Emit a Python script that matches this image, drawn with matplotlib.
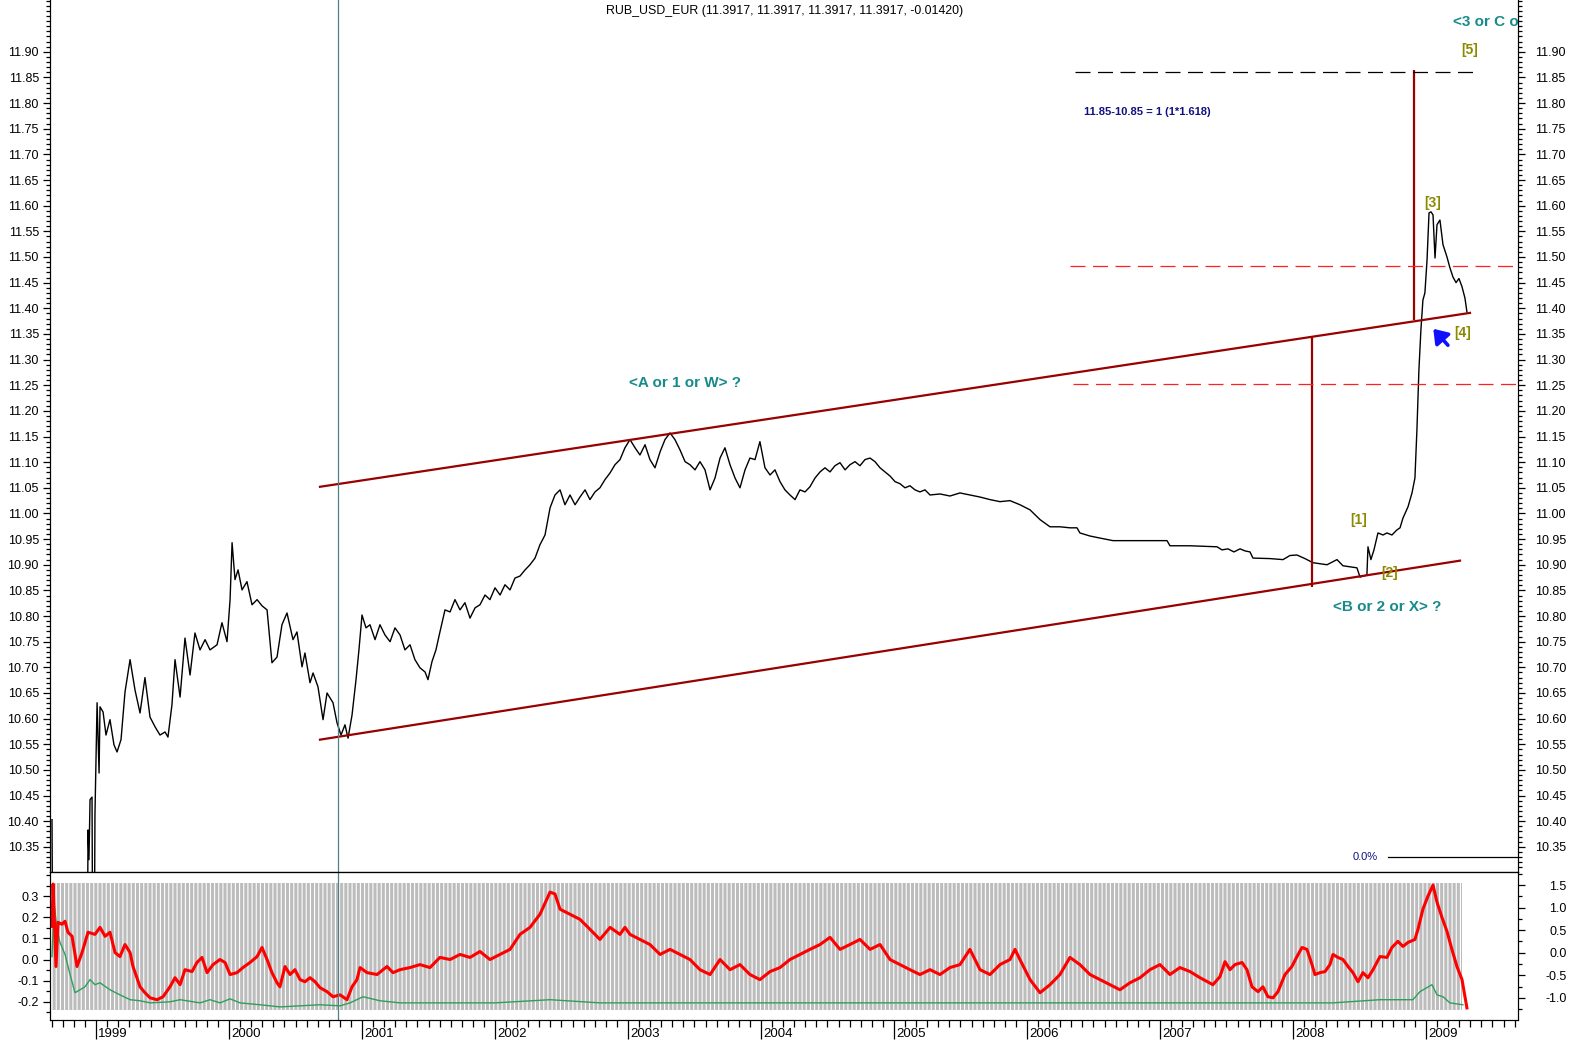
import matplotlib
matplotlib.use('Agg')
import matplotlib.pyplot as plt
import numpy as np
from matplotlib.ticker import FixedLocator, MultipleLocator, FormatStrFormatter, NullFormatter

plt.rcParams['font.family'] = ['Liberation Sans', 'DejaVu Sans']
plt.rcParams['hatch.linewidth'] = 0.8

# --- data (decimal years) ---
t_price = [1998.669, 1998.677, 1998.932, 1998.940, 1998.947, 1998.955, 1998.970, 1998.977, 1998.985,
           1998.992, 1999.008, 1999.023, 1999.030, 1999.053, 1999.075, 1999.105, 1999.135, 1999.158,
           1999.188, 1999.218, 1999.256, 1999.293, 1999.331, 1999.368, 1999.406, 1999.444, 1999.481,
           1999.519, 1999.541, 1999.571, 1999.594, 1999.632, 1999.669, 1999.707, 1999.744, 1999.782,
           1999.820, 1999.857, 1999.910, 1999.947, 1999.985, 2000.008, 2000.023, 2000.045, 2000.068,
           2000.098, 2000.135, 2000.173, 2000.211, 2000.248, 2000.286, 2000.323, 2000.361, 2000.398,
           2000.436, 2000.481, 2000.511, 2000.549, 2000.571, 2000.609, 2000.632, 2000.669, 2000.707,
           2000.737, 2000.782, 2000.812, 2000.842, 2000.872, 2000.895, 2000.925, 2000.955, 2000.977,
           2001.000, 2001.030, 2001.060, 2001.098, 2001.135, 2001.173, 2001.211, 2001.248, 2001.286,
           2001.323, 2001.361, 2001.398, 2001.436, 2001.474, 2001.496, 2001.526, 2001.556, 2001.586,
           2001.624, 2001.662, 2001.699, 2001.737, 2001.774, 2001.812, 2001.850, 2001.887, 2001.925,
           2001.962, 2002.000, 2002.038, 2002.075, 2002.113, 2002.150, 2002.188, 2002.226, 2002.263,
           2002.301, 2002.338, 2002.376, 2002.414, 2002.451, 2002.489, 2002.526, 2002.564, 2002.602,
           2002.639, 2002.677, 2002.714, 2002.752, 2002.789, 2002.827, 2002.865, 2002.902, 2002.940,
           2002.977, 2003.015, 2003.053, 2003.090, 2003.128, 2003.165, 2003.203, 2003.241, 2003.278,
           2003.316, 2003.353, 2003.391, 2003.429, 2003.466, 2003.504, 2003.541, 2003.579, 2003.617,
           2003.654, 2003.692, 2003.729, 2003.767, 2003.805, 2003.842, 2003.880, 2003.917, 2003.955,
           2003.992, 2004.030, 2004.068, 2004.105, 2004.143, 2004.180, 2004.218, 2004.256, 2004.293,
           2004.331, 2004.368, 2004.406, 2004.444, 2004.481, 2004.519, 2004.556, 2004.594, 2004.632,
           2004.669, 2004.707, 2004.744, 2004.782, 2004.820, 2004.857, 2004.895, 2004.932, 2004.970,
           2005.008, 2005.045, 2005.083, 2005.120, 2005.158, 2005.195, 2005.233, 2005.271, 2005.346,
           2005.421, 2005.496, 2005.571, 2005.647, 2005.722, 2005.797, 2005.872, 2005.947, 2006.023,
           2006.098, 2006.173, 2006.248, 2006.323, 2006.376, 2006.398, 2006.474, 2006.549, 2006.647,
           2006.774, 2006.925, 2007.053, 2007.075, 2007.226, 2007.429, 2007.466, 2007.511, 2007.556,
           2007.602, 2007.639, 2007.677, 2007.699, 2007.827, 2007.925, 2007.977, 2008.030, 2008.090,
           2008.150, 2008.256, 2008.331, 2008.376, 2008.481, 2008.504, 2008.556, 2008.564, 2008.586,
           2008.609, 2008.639, 2008.677, 2008.707, 2008.744, 2008.782, 2008.805, 2008.827, 2008.865,
           2008.895, 2008.917, 2008.932, 2008.947, 2008.962, 2008.977, 2008.992, 2009.008, 2009.023,
           2009.038, 2009.053, 2009.068, 2009.083, 2009.105, 2009.128, 2009.158, 2009.180, 2009.203,
           2009.226, 2009.248, 2009.271, 2009.293, 2009.308]
price = [10.403, 10.0, 10.0, 10.383, 10.325, 10.442, 10.447, 10.0, 10.0,
         10.412, 10.631, 10.494, 10.623, 10.613, 10.568, 10.598, 10.549, 10.535,
         10.559, 10.652, 10.715, 10.656, 10.611, 10.680, 10.603, 10.584, 10.568,
         10.574, 10.564, 10.627, 10.715, 10.642, 10.757, 10.685, 10.767, 10.734,
         10.754, 10.734, 10.744, 10.787, 10.750, 10.832, 10.943, 10.871, 10.890,
         10.851, 10.867, 10.822, 10.832, 10.820, 10.812, 10.709, 10.720, 10.783,
         10.806, 10.754, 10.769, 10.701, 10.728, 10.670, 10.689, 10.662, 10.598,
         10.650, 10.631, 10.592, 10.568, 10.588, 10.562, 10.607, 10.676, 10.734,
         10.802, 10.777, 10.783, 10.754, 10.783, 10.763, 10.750, 10.777, 10.763,
         10.734, 10.744, 10.715, 10.699, 10.691, 10.676, 10.711, 10.734, 10.769,
         10.812, 10.808, 10.832, 10.812, 10.826, 10.796, 10.816, 10.822, 10.841,
         10.832, 10.855, 10.841, 10.861, 10.851, 10.874, 10.878, 10.890, 10.900,
         10.913, 10.939, 10.958, 11.011, 11.036, 11.046, 11.017, 11.036, 11.017,
         11.032, 11.046, 11.027, 11.042, 11.050, 11.066, 11.079, 11.095, 11.105,
         11.128, 11.144, 11.128, 11.114, 11.134, 11.105, 11.089, 11.120, 11.144,
         11.157, 11.144, 11.124, 11.101, 11.095, 11.085, 11.101, 11.085, 11.046,
         11.069, 11.108, 11.128, 11.095, 11.069, 11.050, 11.085, 11.108, 11.105,
         11.140, 11.089, 11.075, 11.085, 11.062, 11.046, 11.036, 11.027, 11.046,
         11.042, 11.052, 11.069, 11.081, 11.089, 11.081, 11.093, 11.099, 11.085,
         11.095, 11.101, 11.093, 11.105, 11.108, 11.101, 11.089, 11.081, 11.073,
         11.062, 11.058, 11.050, 11.054, 11.046, 11.042, 11.046, 11.036, 11.038,
         11.034, 11.040, 11.036, 11.032, 11.027, 11.023, 11.025, 11.017, 11.007,
         10.988, 10.974, 10.974, 10.972, 10.972, 10.962, 10.956, 10.952, 10.947,
         10.947, 10.947, 10.947, 10.937, 10.937, 10.935, 10.929, 10.931, 10.925,
         10.931, 10.927, 10.925, 10.913, 10.912, 10.910, 10.918, 10.919, 10.912,
         10.904, 10.900, 10.910, 10.898, 10.894, 10.876, 10.880, 10.935, 10.910,
         10.929, 10.962, 10.958, 10.962, 10.958, 10.968, 10.972, 10.991, 11.013,
         11.040, 11.069, 11.163, 11.280, 11.358, 11.416, 11.430, 11.494, 11.586,
         11.588, 11.582, 11.498, 11.563, 11.572, 11.524, 11.500, 11.479, 11.461,
         11.450, 11.458, 11.442, 11.420, 11.393]

t_osc = [1998.669, 1998.677, 1998.699, 1998.714, 1998.744, 1998.767, 1998.789, 1998.820, 1998.857,
         1998.895, 1998.940, 1998.992, 1999.030, 1999.068, 1999.105, 1999.143, 1999.180, 1999.218,
         1999.256, 1999.278, 1999.331, 1999.368, 1999.406, 1999.459, 1999.504, 1999.556, 1999.594,
         1999.632, 1999.669, 1999.722, 1999.759, 1999.797, 1999.835, 1999.880, 1999.932, 1999.970,
         2000.008, 2000.060, 2000.105, 2000.158, 2000.211, 2000.248, 2000.286, 2000.323, 2000.361,
         2000.383, 2000.421, 2000.459, 2000.496, 2000.534, 2000.571, 2000.609, 2000.647, 2000.684,
         2000.737, 2000.782, 2000.835, 2000.887, 2000.925, 2000.962, 2000.985, 2001.038, 2001.113,
         2001.188, 2001.233, 2001.286, 2001.361, 2001.436, 2001.511, 2001.586, 2001.662, 2001.737,
         2001.812, 2001.887, 2001.962, 2002.038, 2002.113, 2002.188, 2002.263, 2002.338, 2002.414,
         2002.451, 2002.489, 2002.564, 2002.639, 2002.714, 2002.789, 2002.865, 2002.940, 2002.977,
         2003.015, 2003.090, 2003.165, 2003.241, 2003.316, 2003.391, 2003.466, 2003.541, 2003.617,
         2003.692, 2003.767, 2003.842, 2003.917, 2003.992, 2004.068, 2004.143, 2004.218, 2004.293,
         2004.368, 2004.444, 2004.519, 2004.594, 2004.669, 2004.744, 2004.820, 2004.895, 2004.970,
         2005.045, 2005.120, 2005.195, 2005.271, 2005.346, 2005.421, 2005.496, 2005.571, 2005.647,
         2005.722, 2005.797, 2005.872, 2005.910, 2005.947, 2006.023, 2006.098, 2006.173, 2006.248,
         2006.323, 2006.398, 2006.474, 2006.549, 2006.624, 2006.699, 2006.774, 2006.850, 2006.925,
         2007.000, 2007.075, 2007.150, 2007.226, 2007.301, 2007.398, 2007.451, 2007.489, 2007.526,
         2007.564, 2007.617, 2007.654, 2007.692, 2007.737, 2007.774, 2007.812, 2007.850, 2007.887,
         2007.940, 2007.992, 2008.030, 2008.068, 2008.105, 2008.143, 2008.165, 2008.203, 2008.241,
         2008.278, 2008.301, 2008.338, 2008.376, 2008.414, 2008.451, 2008.489, 2008.526, 2008.564,
         2008.602, 2008.654, 2008.707, 2008.744, 2008.789, 2008.827, 2008.865, 2008.917, 2008.940,
         2008.977, 2009.015, 2009.053, 2009.083, 2009.120, 2009.158, 2009.195, 2009.233, 2009.271,
         2009.308]
osc_red = [0.157, 0.357, -0.033, 0.176, 0.167, 0.181, 0.129, 0.110, -0.033,
           0.033, 0.129, 0.119, 0.152, 0.110, 0.129, 0.033, 0.014, 0.071,
           0.033, -0.033, -0.129, -0.157, -0.181, -0.190, -0.176, -0.129, -0.086,
           -0.119, -0.048, -0.057, -0.014, 0.010, -0.062, -0.024, 0.000, -0.014,
           -0.071, -0.062, -0.038, -0.014, 0.014, 0.057, 0.000, -0.062, -0.110,
           -0.129, -0.033, -0.071, -0.048, -0.095, -0.105, -0.086, -0.105, -0.133,
           -0.152, -0.176, -0.167, -0.190, -0.129, -0.095, -0.038, -0.062, -0.071,
           -0.033, -0.062, -0.048, -0.038, -0.024, -0.038, 0.010, 0.000, 0.024,
           0.010, 0.038, 0.000, 0.024, 0.048, 0.119, 0.152, 0.214, 0.319,
           0.310, 0.238, 0.214, 0.190, 0.143, 0.095, 0.152, 0.119, 0.152,
           0.119, 0.095, 0.071, 0.024, 0.048, 0.024, 0.000, -0.048, -0.071,
           0.000, -0.048, -0.024, -0.071, -0.095, -0.057, -0.038, 0.000, 0.024,
           0.048, 0.071, 0.105, 0.048, 0.071, 0.095, 0.048, 0.071, 0.000,
           -0.024, -0.048, -0.071, -0.048, -0.071, -0.038, -0.024, 0.048, -0.048,
           -0.071, -0.024, 0.000, 0.048, 0.000, -0.095, -0.157, -0.119, -0.071,
           0.010, -0.024, -0.071, -0.095, -0.119, -0.143, -0.110, -0.086, -0.048,
           -0.024, -0.071, -0.038, -0.057, -0.086, -0.119, -0.081, -0.010, -0.048,
           -0.024, -0.014, -0.048, -0.129, -0.152, -0.129, -0.176, -0.181, -0.152,
           -0.071, -0.033, 0.014, 0.057, 0.048, -0.024, -0.071, -0.062, -0.057,
           -0.024, 0.024, 0.010, 0.000, -0.033, -0.062, -0.105, -0.062, -0.086,
           -0.048, 0.014, 0.010, 0.057, 0.086, 0.062, 0.081, 0.095, 0.143,
           0.238, 0.300, 0.352, 0.271, 0.200, 0.133, 0.048, -0.033, -0.095,
           -0.229]

t_sig = [1998.669, 1998.684, 1998.707, 1998.729, 1998.767, 1998.805, 1998.842, 1998.880, 1998.917,
         1998.955, 1998.992, 1999.030, 1999.105, 1999.180, 1999.256, 1999.331, 1999.406, 1999.556,
         1999.632, 1999.782, 1999.857, 1999.932, 2000.008, 2000.083, 2000.233, 2000.383, 2000.534,
         2000.684, 2000.835, 2000.910, 2001.008, 2001.135, 2001.286, 2002.000, 2002.414, 2002.789,
         2003.500, 2004.500, 2005.500, 2006.500, 2007.500, 2008.300, 2008.654, 2008.902, 2008.955,
         2009.045, 2009.083, 2009.128, 2009.180, 2009.278]
osc_green = [0.014, 0.271, 0.143, 0.081, 0.024, -0.071, -0.157, -0.143, -0.129,
             -0.095, -0.119, -0.110, -0.143, -0.167, -0.190, -0.195, -0.205, -0.200,
             -0.190, -0.205, -0.190, -0.205, -0.186, -0.205, -0.214, -0.224, -0.219,
             -0.214, -0.219, -0.205, -0.176, -0.195, -0.205, -0.205, -0.190, -0.205,
             -0.205, -0.205, -0.205, -0.205, -0.205, -0.205, -0.190, -0.190, -0.152,
             -0.119, -0.167, -0.176, -0.205, -0.214]

vol_t = [1998.669, 2009.271]
vol_top = 0.362
vol_bottom = -0.238

# channel / annotation lines
upper_chan_t, upper_chan_p = [2000.684, 2009.331], [11.052, 11.391]
lower_chan_t, lower_chan_p = [2000.684, 2009.256], [10.559, 10.908]
vlines_t = [2008.143, 2008.910]
vlines_lo = [10.857, 11.377]
vlines_hi = [11.344, 11.865]
marker_t = 2000.820
years = list(range(1999, 2010))

W, H = 1570, 1040
fig = plt.figure(figsize=(W / 100, H / 100), dpi=100)
ax = fig.add_axes([50 / W, (H - 872) / H, 1468 / W, 872 / H])
ax2 = fig.add_axes([50 / W, (H - 1020) / H, 1468 / W, 148 / H])

xlim = (1998.654, 2009.692)

# ---- main panel ----
ax.plot(t_price, price, color='black', lw=1.0)
ax.plot(upper_chan_t, upper_chan_p, color='#990000', lw=1.6)
ax.plot(lower_chan_t, lower_chan_p, color='#990000', lw=1.6)
ax.vlines(vlines_t, vlines_lo, vlines_hi, color='#990000', lw=1.6)
ax.plot([2006.361, 2009.368], [11.861, 11.861], color='black', lw=0.9, dashes=(12, 6))
ax.plot([2006.323, 2009.692], [11.483, 11.483], color='#ff2020', lw=0.9, dashes=(12, 6))
ax.plot([2006.346, 2009.692], [11.253, 11.253], color='#ff2020', lw=0.9, dashes=(12, 6))
ax.plot([2008.714, 2009.692], [10.330, 10.330], color='black', lw=0.9)
ax.axvline(marker_t, color='#4f8088', lw=0.9)

ax.set_xlim(*xlim)
ax.set_ylim(10.301, 12.001)

teal = '#178a8a'
olive = '#8a8a00'
ax.text(1998.654 + (785 - 50) / 133, 11.98, 'RUB_USD_EUR (11.3917, 11.3917, 11.3917, 11.3917, -0.01420)',
        ha='center', va='center', fontsize=8.9)
ax.text(2009.203, 11.958, '<3 or C or Y> ?', color=teal, fontsize=11, fontweight='bold',
        ha='left', va='center', clip_on=True)
ax.text(2009.331, 11.904, '[5]', color=olive, fontsize=10, fontweight='bold', ha='center', va='center')
ax.text(2006.429, 11.783, '11.85-10.85 = 1 (1*1.618)', color='#101080', fontsize=8,
        fontweight='bold', ha='left', va='center')
ax.text(2009.053, 11.606, '[3]', color=olive, fontsize=10, fontweight='bold', ha='center', va='center')
ax.text(2009.278, 11.352, '[4]', color=olive, fontsize=10, fontweight='bold', ha='center', va='center')
ax.text(2008.496, 10.988, '[1]', color=olive, fontsize=10, fontweight='bold', ha='center', va='center')
ax.text(2008.729, 10.884, '[2]', color=olive, fontsize=10, fontweight='bold', ha='center', va='center')
ax.text(2003.429, 11.255, '<A or 1 or W> ?', color=teal, fontsize=11, fontweight='bold',
        ha='center', va='center')
ax.text(2008.707, 10.818, '<B or 2 or X> ?', color=teal, fontsize=11, fontweight='bold',
        ha='center', va='center')
ax.text(2008.639, 10.330, '0.0%', color='#101080', fontsize=8, ha='right', va='center')
ax.annotate('', xy=(2009.055, 11.360), xytext=(2009.165, 11.328),
            arrowprops=dict(arrowstyle='-|>,head_length=0.5,head_width=0.35', color='#1010ff',
                            lw=2.6, mutation_scale=16, shrinkA=0, shrinkB=0))

ax.spines['top'].set_visible(False)
ax.tick_params(axis='x', which='both', bottom=False, labelbottom=False)
major_y = np.round(np.arange(10.35, 11.901, 0.05), 2)
minor_y = np.round(np.arange(10.30, 12.001, 0.01), 2)
ax.yaxis.set_major_locator(FixedLocator(major_y))
ax.yaxis.set_minor_locator(FixedLocator(minor_y))
ax.yaxis.set_major_formatter(FormatStrFormatter('%.2f'))
ax.tick_params(axis='y', which='major', direction='out', length=5, width=0.9, labelsize=9, pad=3)
ax.tick_params(axis='y', which='minor', direction='out', length=3, width=0.9)

axr = ax.twinx()
axr.set_ylim(ax.get_ylim())
axr.yaxis.set_major_locator(FixedLocator(major_y))
axr.yaxis.set_minor_locator(FixedLocator(minor_y))
axr.yaxis.set_major_formatter(FormatStrFormatter('%.2f'))
axr.tick_params(axis='y', which='major', direction='out', length=5, width=0.9, labelsize=9, pad=7)
axr.tick_params(axis='y', which='minor', direction='out', length=3, width=0.9)
axr.spines['top'].set_visible(False)

# ---- oscillator panel ----
ax2.fill_between(vol_t, vol_bottom, vol_top, facecolor='#bcbcbc', hatch='||||',
                 edgecolor='white', linewidth=0)
ax2.plot(t_sig, osc_green, color='#2ca05a', lw=1.0)
ax2.plot(t_osc, osc_red, color='#ff0000', lw=2.2)
ax2.axvline(marker_t, color='#4f8088', lw=0.9)
ax2.set_xlim(*xlim)
ax2.set_ylim(-0.286, 0.414)
ax2.yaxis.set_major_locator(FixedLocator([-0.2, -0.1, 0.0, 0.1, 0.2, 0.3]))
ax2.yaxis.set_minor_locator(MultipleLocator(0.05))
ax2.yaxis.set_major_formatter(FormatStrFormatter('%.1f'))
ax2.tick_params(axis='y', which='major', direction='out', length=5, width=0.9, labelsize=9, pad=3)
ax2.tick_params(axis='y', which='minor', direction='out', length=3, width=0.9)

ax2.xaxis.set_major_locator(FixedLocator(years))
ax2.xaxis.set_minor_locator(FixedLocator([1998 + k / 12 for k in range(8, 12 * 12)]))
ax2.xaxis.set_major_formatter(NullFormatter())
ax2.tick_params(axis='x', which='major', direction='out', length=14, width=0.9)
ax2.tick_params(axis='x', which='minor', direction='out', length=5, width=0.9)
for yr in years:
    ax2.text(yr + 2 / 133, -0.095, str(yr), transform=ax2.get_xaxis_transform(),
             ha='left', va='center', fontsize=9.5)

ax2r = ax2.twinx()
ax2r.set_ylim(-1.491, 1.790)
ax2r.yaxis.set_major_locator(FixedLocator([-1.0, -0.5, 0.0, 0.5, 1.0, 1.5]))
ax2r.yaxis.set_minor_locator(MultipleLocator(0.25))
ax2r.yaxis.set_major_formatter(FormatStrFormatter('%.1f'))
ax2r.tick_params(axis='y', which='major', direction='out', length=5, width=0.9, labelsize=9, pad=30)
ax2r.tick_params(axis='y', which='minor', direction='out', length=3, width=0.9)
for lbl in ax2r.get_yticklabels():
    lbl.set_horizontalalignment('right')

fig.savefig('out.png', dpi=100)
